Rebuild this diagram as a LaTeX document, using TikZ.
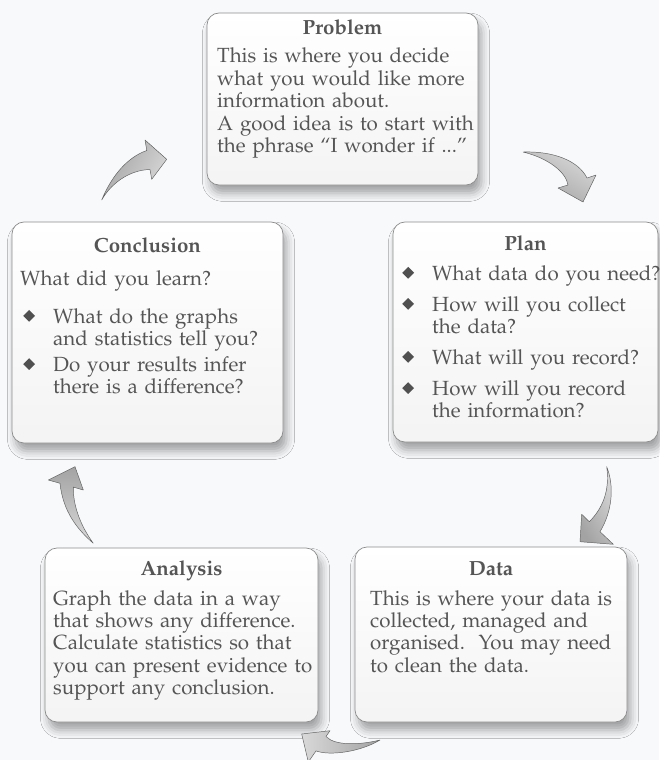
\documentclass[tikz,border=0pt]{standalone}
\usepackage[T1]{fontenc}
\usepackage{mathpazo}
\usepackage{graphicx}
\usetikzlibrary{fit,shadows.blur}
\definecolor{bgcol}{RGB}{247,249,251}
\definecolor{txtcol}{RGB}{85,85,85}
\definecolor{edgecol}{RGB}{140,140,140}
\definecolor{bulletcol}{RGB}{80,80,80}
\newcommand{\itm}[1]{\hangindent=0.9cm\hangafter=1\noindent\makebox[0.9cm][l]{\color{bulletcol}\raisebox{0.04cm}{\rotatebox{45}{\rule{0.25cm}{0.25cm}}}}#1\par}
\begin{document}
\begin{tikzpicture}[x=0.03cm,y=-0.03cm]
            \tikzset{box/.style={draw=edgecol, line width=0.6pt, rounded corners=0.36cm, inner sep=0pt, top color=white, bottom color=gray!9,
                         blur shadow={shadow xshift=3pt, shadow yshift=-7pt, shadow blur radius=7pt, shadow opacity=35}}};
            \tikzset{ttl/.style={anchor=base, inner sep=0pt, text=txtcol, font=\fontsize{17.5}{19.2}\selectfont\bfseries}};
            \tikzset{txt/.style={anchor=base west, inner sep=0pt, text=txtcol, text width=#1, align=left, font=\fontsize{17.5}{19.2}\selectfont}};
            \tikzset{blk/.style={draw=gray!75!black, line width=0.4pt, line join=round, top color=gray!30, bottom color=gray!72, shading angle=#1}};
            \useasboundingbox (0,0) rectangle (659,760);
            \fill[bgcol] (0,0) rectangle (659,760);
            
            % boxes
            \node[box, fit={(207,13) (478,185)}] (problem) {};
            \node[box, fit={(393,222) (658,442)}] (plan) {};
            \node[box, fit={(12,222) (283,443)}] (conclusion) {};
            \node[box, fit={(45,548) (318,722)}] (analysis) {};
            \node[box, fit={(355,547) (627,722)}] (data) {};
            
            \node[ttl] (problemT) at (342.5,35) {Problem};
            \node[txt=8cm] (problemB) at (217,63) {This is where you decide\\what you would like more\\information about.\\A good idea is to start with\\the phrase ``I wonder if ...''};
            
            \node[ttl] (planT) at (525.5,250) {Plan};
            \node[txt=8cm] (planB) at (402,280) {\itm{What data do you need?}\vspace{0.26cm}\itm{How will you collect\newline the data?}\vspace{0.24cm}\itm{What will you record?}\vspace{0.26cm}\itm{How will you record\newline the information?}};
            
            \node[ttl] (conclusionT) at (147.5,252) {Conclusion};
            \node[txt=8cm] (conclusionB) at (20,285) {What did you learn?};
            \node[txt=8cm] (conclusionL) at (23,323) {\itm{What do the graphs\newline and statistics tell you?}\vspace{0.1cm}\itm{Do your results infer\newline there is a difference?}};
            
            \node[ttl] (analysisT) at (181.5,575) {Analysis};
            \node[txt=8cm] (analysisB) at (53,605) {Graph the data in a way\\that shows any difference.\\Calculate statistics so that\\you can present evidence to\\support any conclusion.};
            
            \node[ttl] (dataT) at (491,575) {Data};
            \node[txt=8cm] (dataB) at (370,605) {This is where your data is\\collected, managed and\\organised.\ \ You may need\\to clean the data.};
            
            % arrows
            \coordinate (a1s) at (523,152); \coordinate (a1e) at (583,202);
            \coordinate (a2s) at (606.7,466.7); \coordinate (a2e) at (580,541.7);
            \coordinate (a3s) at (380,740); \coordinate (a3e) at (301.7,734);
            \coordinate (a4s) at (93.3,543.3); \coordinate (a4e) at (75,466.7);
            \coordinate (a5s) at (101.7,200); \coordinate (a5e) at (166.7,159.3);
            
            \draw[blk=-30] (a1s) .. controls (552,151) and (578,160) .. (587,178) -- (596,175) -- (a1e) -- (558,188) -- (568,185) .. controls (566,172) and (548,158) .. cycle;
            \draw[blk=-60] (a2s) .. controls (614,485) and (613,510) .. (600,531.7) -- (613.3,544.3) -- (a2e) -- (581.7,514.3) -- (589.3,521.7) .. controls (603,508) and (610,490) .. cycle;
            \draw[blk=90] (a3s) .. controls (360,745) and (335,746) .. (326,736.5) -- (330,730.7) -- (a3e) -- (308.3,762) -- (316,750.9) .. controls (330,756) and (360,752) .. cycle;
            \draw[blk=180] (a4s) .. controls (78,530) and (63,512) .. (60,483.3) -- (48.3,480) -- (a4e) -- (83.3,490) -- (73.3,487.1) .. controls (73,505) and (80,525) .. cycle;
            \draw[blk=240] (a5s) .. controls (112,175) and (128,157) .. (146.8,150.5) -- (145,140) -- (a5e) -- (151.7,179.3) -- (150,169.5) .. controls (128,170) and (110,185) .. cycle;
\end{tikzpicture}
\end{document}
